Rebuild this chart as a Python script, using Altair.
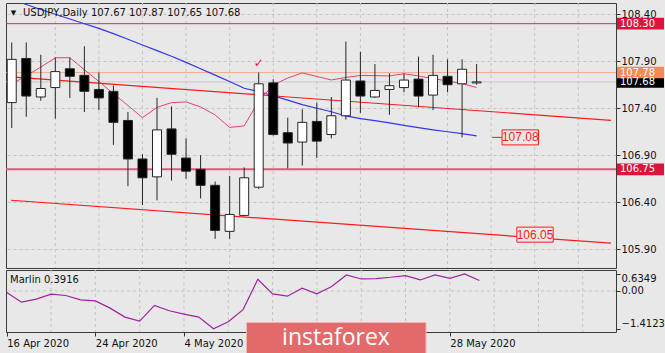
import altair as alt
import pandas as pd

FONT = "DejaVu Sans"
BG = "#e8e8e8"

# ---------------- data ----------------
date_labels = ["16 Apr 2020", "24 Apr 2020", "4 May 2020", "28 May 2020"]
date_idx = [0, 6, 12, 30]

opens = [107.46, 107.93, 107.52, 107.62, 107.82, 107.75, 107.60, 107.58, 107.27, 106.86, 106.67,
         107.18, 106.87, 106.75, 106.58, 106.09, 106.26, 106.56, 107.67, 107.14, 107.04, 107.26,
         107.12, 107.32, 107.69, 107.52, 107.60, 107.62, 107.71, 107.54, 107.74, 107.66, 107.67]
highs = [108.10, 108.10, 107.97, 107.94, 107.94, 108.06, 107.78, 107.64, 107.36, 106.91, 107.51,
         107.42, 107.08, 106.90, 106.62, 106.68, 106.77, 107.78, 107.71, 107.30, 107.39, 107.46,
         107.52, 108.11, 108.00, 107.87, 107.77, 107.77, 107.95, 107.97, 107.92, 107.92, 107.87]
lows = [107.19, 107.31, 107.48, 107.29, 107.51, 107.36, 107.38, 107.01, 106.57, 106.37, 106.42,
        106.63, 106.65, 106.44, 106.01, 106.01, 106.25, 106.54, 107.11, 106.76, 106.79, 106.87,
        107.08, 107.28, 107.35, 107.51, 107.33, 107.57, 107.41, 107.38, 107.57, 107.09, 107.65]
closes = [107.92, 107.53, 107.61, 107.79, 107.74, 107.58, 107.51, 107.25, 106.86, 106.66, 107.17,
          106.91, 106.73, 106.58, 106.10, 106.27, 106.66, 107.66, 107.12, 107.03, 107.25, 107.05,
          107.32, 107.70, 107.53, 107.59, 107.64, 107.70, 107.53, 107.75, 107.65, 107.815, 107.68]

blue_ma = [108.56, 108.504, 108.451, 108.400, 108.350, 108.299, 108.250, 108.194, 108.134, 108.073,
           108.013, 107.953, 107.888, 107.820, 107.753, 107.684, 107.613, 107.578, 107.533, 107.486,
           107.438, 107.400, 107.363, 107.318, 107.290, 107.268, 107.245, 107.218, 107.193, 107.170,
           107.150, 107.129, 107.106]
pink_ma = [107.658, 107.745, 107.838, 107.937, 107.938, 107.810, 107.685, 107.555, 107.429, 107.300,
           107.409, 107.460, 107.467, 107.414, 107.329, 107.196, 107.212, 107.478, 107.648, 107.722,
           107.776, 107.738, 107.701, 107.728, 107.749, 107.747, 107.744, 107.767, 107.744, 107.716,
           107.690, 107.662, 107.621]
marlin = [-0.056, -0.417, -0.306, -0.120, -0.168, -0.332, -0.369, -0.640, -0.975, -1.123, -0.540,
          -0.740, -0.863, -0.975, -1.4123, -1.149, -0.696, 0.438, -0.108, -0.194, 0.103, -0.108,
          0.167, 0.598, 0.449, 0.464, 0.512, 0.575, 0.412, 0.598, 0.475, 0.6349, 0.3916]

price_ticks = [105.90, 106.40, 106.90, 107.40, 107.90, 108.40]
marlin_ticks = [0.6349, 0.0, -1.4123]

levels = [108.30, 107.78, 107.68, 106.75]
level_line_color = ["#e0284e", "#f6ad8a", "#c9c9c9", "#e35878"]
level_line_width = [1, 1, 1, 2]
level_box_color = ["#dc143c", "#f68a55", "#000000", "#dc143c"]
level_box_order = [0, 3, 1, 2]

trend_x = [-0.05, 41.25]
trend_hi = [107.733, 107.272]
trend_lo = [106.421, 105.964]

ann_text = ["107.08", "106.05"]
ann_price = [107.09, 106.055]
ann_x0 = [33.75, 34.77]
ann_x1 = [36.26, 37.27]
ann_dash_x = [33.07, 33.75]

check_i = 17
check_price = 107.88

grid_x = list(range(3, 42, 3))

title_text = "USDJPY,Daily 107.67 107.87 107.65 107.68"
marlin_title = "Marlin 0.3916"

# ---------------- frames ----------------
n = len(opens)
candles = pd.DataFrame({
    "i": list(range(n)), "open": opens, "high": highs, "low": lows, "close": closes,
    "dir": ["up" if c >= o else "down" for o, c in zip(opens, closes)],
})
ma_df = pd.DataFrame({"i": list(range(n)), "blue": blue_ma, "pink": pink_ma, "marlin": marlin})
grid_df = pd.DataFrame({"gx": grid_x})
lvl_df = pd.DataFrame({
    "level": levels, "lc": level_line_color, "lw": level_line_width,
    "bc": level_box_color, "ord": level_box_order,
    "txt": [f"{v:.2f}" for v in levels],
})
trend_df = pd.DataFrame({
    "x": trend_x + trend_x, "p": trend_hi + trend_lo,
    "g": ["hi", "hi", "lo", "lo"],
})
ann_df = pd.DataFrame({"txt": ann_text, "p": ann_price, "x0": ann_x0, "x1": ann_x1})
dash_df = pd.DataFrame({"x": ann_dash_x, "p": [ann_price[0]] * 2})

XDOM = [-0.05, 41.25]
xs = alt.Scale(domain=XDOM, nice=False, zero=False)
ys = alt.Scale(domain=[105.70, 108.52], nice=False, zero=False)
ys2 = alt.Scale(domain=[-1.532, 0.7836], nice=False, zero=False)

yax = alt.Axis(orient="right", values=price_ticks, format=".2f", grid=True, gridDash=[3, 3],
               gridColor="#c4c4c4", tickSize=4, tickColor="#333333", domain=False,
               labelFont=FONT, labelFontSize=10, labelColor="#111111", labelPadding=1,
               title=None, labelOverlap=False)

W = 610
H1 = 265
H2 = 62

# ---------------- upper panel ----------------
vgrid = alt.Chart(grid_df).mark_rule(color="#c4c4c4", strokeDash=[3, 3], strokeWidth=1).encode(
    x=alt.X("gx:Q", scale=xs, axis=None))

lvl_lines = alt.Chart(lvl_df).mark_rule().encode(
    y=alt.Y("level:Q", scale=ys, axis=yax),
    color=alt.Color("lc:N", scale=None),
    size=alt.Size("lw:Q", scale=None))

trends = alt.Chart(trend_df).mark_line(color="#ff1a1a", strokeWidth=1.2, clip=True).encode(
    x=alt.X("x:Q", scale=xs, axis=None),
    y=alt.Y("p:Q", scale=ys, axis=yax),
    detail="g:N")

blue = alt.Chart(ma_df).mark_line(color="#3535f5", strokeWidth=1.2, clip=True).encode(
    x=alt.X("i:Q", scale=xs, axis=None), y=alt.Y("blue:Q", scale=ys, axis=yax))
pink = alt.Chart(ma_df).mark_line(color="#e2466e", strokeWidth=1, clip=True).encode(
    x=alt.X("i:Q", scale=xs, axis=None), y=alt.Y("pink:Q", scale=ys, axis=yax))

wicks = alt.Chart(candles).mark_rule(color="#262626", strokeWidth=1, clip=True).encode(
    x=alt.X("i:Q", scale=xs, axis=None),
    y=alt.Y("low:Q", scale=ys, axis=yax), y2="high:Q")

bodies = alt.Chart(candles).mark_bar(size=9, stroke="#262626", strokeWidth=1, clip=True).encode(
    x=alt.X("i:Q", scale=xs, axis=None),
    y=alt.Y("open:Q", scale=ys, axis=yax), y2="close:Q",
    fill=alt.Fill("dir:N", scale=alt.Scale(domain=["up", "down"], range=["#ffffff", "#000000"]),
                  legend=None))

title = alt.Chart(pd.DataFrame({"t": [title_text]})).mark_text(
    align="left", baseline="middle", font=FONT, fontSize=10, color="#111111").encode(
    x=alt.value(17), y=alt.value(10), text="t:N")
tri = alt.Chart(pd.DataFrame({"t": ["▼"]})).mark_text(
    align="center", baseline="middle", font=FONT, fontSize=7, color="#111111").encode(
    x=alt.value(7.5), y=alt.value(10), text="t:N")

check = alt.Chart(pd.DataFrame({"i": [check_i], "p": [check_price], "t": ["✓"]})).mark_text(
    font=FONT, fontSize=12, color="#ee1111", baseline="middle", fontWeight="bold").encode(
    x=alt.X("i:Q", scale=xs, axis=None), y=alt.Y("p:Q", scale=ys, axis=yax), text="t:N")

boxes = alt.Chart(lvl_df).transform_calculate(
    top="datum.level + 0.062", bot="datum.level - 0.062").mark_rect().encode(
    x=alt.value(611), x2=alt.value(658),
    y=alt.Y("top:Q", scale=ys, axis=yax), y2="bot:Q",
    fill=alt.Fill("bc:N", scale=None), order=alt.Order("ord:Q"))
box_txt = alt.Chart(lvl_df).mark_text(
    align="left", baseline="middle", font=FONT, fontSize=10, color="#ffffff").encode(
    x=alt.value(614), y=alt.Y("level:Q", scale=ys, axis=yax), text="txt:N",
    order=alt.Order("ord:Q"))

ann_dash = alt.Chart(dash_df).mark_line(color="#ff1a1a", strokeWidth=1).encode(
    x=alt.X("x:Q", scale=xs, axis=None), y=alt.Y("p:Q", scale=ys, axis=yax))
ann_box = alt.Chart(ann_df).transform_calculate(
    top="datum.p + 0.08", bot="datum.p - 0.08", xm="(datum.x0 + datum.x1) / 2").mark_rect(
    fill=BG, stroke="#ff1a1a", strokeWidth=1).encode(
    x=alt.X("x0:Q", scale=xs, axis=None), x2="x1:Q",
    y=alt.Y("top:Q", scale=ys, axis=yax), y2="bot:Q")
ann_txt = alt.Chart(ann_df).transform_calculate(xm="(datum.x0 + datum.x1) / 2").mark_text(
    font="Liberation Sans", fontSize=12, color="#ff1a1a", baseline="middle", align="center").encode(
    x=alt.X("xm:Q", scale=xs, axis=None), y=alt.Y("p:Q", scale=ys, axis=yax), text="txt:N")

upper = alt.layer(vgrid, lvl_lines, trends, blue, pink, wicks, bodies, check,
                  ann_dash, ann_box, ann_txt, boxes, box_txt, tri, title).properties(
    width=W, height=H1)

# ---------------- lower panel ----------------
label_map = "{" + ", ".join(f"'{k}': '{v}'" for k, v in zip(date_idx, date_labels)) + "}"
xax2 = alt.Axis(orient="bottom", values=date_idx, labelExpr=f"{label_map}[datum.value + '']",
                labelAlign="left", labelFlush=False, labelOverlap=False, labelBound=False,
                tickSize=4, tickColor="#333333", domain=False, grid=False, title=None,
                labelFont=FONT, labelFontSize=10, labelColor="#111111", labelPadding=2)
yax2 = alt.Axis(orient="right", values=marlin_ticks,
                labelExpr="datum.value == 0 ? '0.00' : format(datum.value, '.4f')",
                labelBaseline={"condition": [{"test": "datum.value > 0.3", "value": "top"},
                                             {"test": "datum.value < -1", "value": "bottom"}],
                               "value": "middle"},
                tickSize=4, tickColor="#333333", domain=False, grid=False, title=None,
                labelFont=FONT, labelFontSize=10, labelColor="#111111", labelPadding=1,
                labelOverlap=False, labelFlush=False)

vgrid2 = alt.Chart(grid_df).mark_rule(color="#c4c4c4", strokeDash=[3, 3], strokeWidth=1).encode(
    x=alt.X("gx:Q", scale=xs, axis=xax2))
zero = alt.Chart(pd.DataFrame({"z": [0.0]})).mark_rule(
    color="#c4c4c4", strokeDash=[3, 3], strokeWidth=1).encode(
    y=alt.Y("z:Q", scale=ys2, axis=yax2))
mline = alt.Chart(ma_df).mark_line(color="#a0239f", strokeWidth=1.2).encode(
    x=alt.X("i:Q", scale=xs, axis=xax2), y=alt.Y("marlin:Q", scale=ys2, axis=yax2))
mtitle = alt.Chart(pd.DataFrame({"t": [marlin_title]})).mark_text(
    align="left", baseline="middle", font=FONT, fontSize=10, color="#111111").encode(
    x=alt.value(4), y=alt.value(10), text="t:N")
logo_box = alt.Chart(pd.DataFrame({"a": [1]})).mark_rect(
    fill="#e36a6a", stroke="#f2b3b3", strokeWidth=1).encode(
    x=alt.value(240.5), x2=alt.value(420), y=alt.value(52.5), y2=alt.value(90))
logo_txt = alt.Chart(pd.DataFrame({"t": ["instaforex"]})).mark_text(
    align="center", baseline="middle", font="Open Sans", fontSize=23, color="#ffffff").encode(
    x=alt.value(330), y=alt.value(68), text="t:N")

lower = alt.layer(vgrid2, zero, mline, mtitle, logo_box, logo_txt).properties(width=W, height=H2)

chart = alt.vconcat(upper, lower, spacing=0).properties(
    padding={"left": 3, "top": 2, "right": 0, "bottom": 0},
    background=BG,
).configure_view(fill=BG, stroke="#3a3a3a", strokeWidth=1)

chart.save("out.html", embed_options={"renderer": "svg", "actions": False})
